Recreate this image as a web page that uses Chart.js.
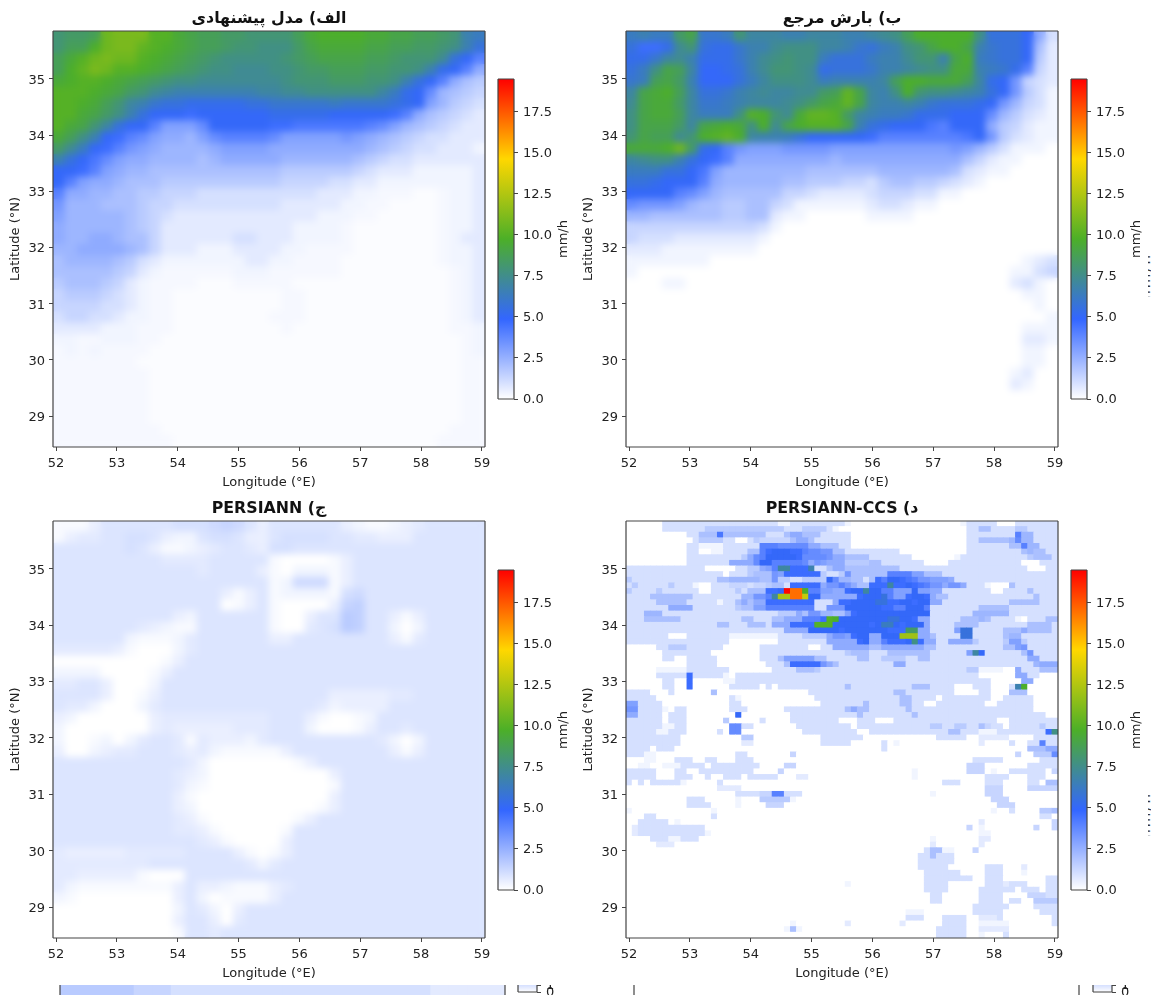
<!DOCTYPE html>
<html><head><meta charset="utf-8">
<script src="https://cdn.jsdelivr.net/npm/chart.js@4/dist/chart.umd.js"></script>
<style>
html,body{margin:0;padding:0;background:#fff;overflow:hidden;width:1154px;height:1002px}
canvas{position:absolute;display:block}
.cut{position:absolute;overflow:hidden}
.clip{position:absolute;overflow:hidden;width:3px;font:15px "DejaVu Sans";color:#333}
.clip span{position:absolute;left:-12px;top:0;writing-mode:vertical-rl;transform:rotate(180deg);white-space:nowrap;letter-spacing:2px}
</style></head><body>
<script>
const ALPHABET="0123456789abcdefghijklmnopqrstuvwxyzABCDEFGHIJKLMNOPQRSTUVWXYZ";
const FAINT_CODES={".":0.1,",":0.22};
const TITLES=["الف) مدل پیشنهادی","ب) بارش مرجع","ج) PERSIANN","د) PERSIANN-CCS"];
const X_LABEL="Longitude (°E)", Y_LABEL="Latitude (°N)", CBAR_LABEL="mm/h";
const LON_MIN=51.95, LON_MAX=59.05, LAT_MIN=28.45, LAT_MAX=35.85, VMAX=19.5;
const CMAP_COLORS=["#ffffff","#3366ff","#4caf28","#ffd700","#ff0000"];

// values: one character per cell, index in ALPHABET x 1/3 mm/h
const proposedRows=[
"oppqwx xxuusr qqppoo ooqstt ttssrr qqpokj",
"oqqtwx xvutsr qqpoon nnprss ssrrqq pponkh",
"qsuwxw wutsrq ponnnn nopqrr rrqqpo oomhfc",
"qtvxwu utsrqp onnmmm nnoppq qqppoo nkgfc8",
"stuuts rqponn mmmmmm mnooop ppoonk hfc865",
"uuutsr pomlkk kkkkkl lmmnnn nnnljg fb7654",
"uutsqo lkihhg gggghh iiiiij iiiihg f97543",
"uusrpn khfffe ffffff gggggf ffffec 865432",
"usrolh ffc999 bfffff eedddd ddcb97 654322",
"sqnkfe cb9887 9bcccc b99999 a98765 433222",
"pmjfec a98777 789999 888888 887654 332221",
"khfdb9 887777 678888 877777 765433 222222",
"ffec98 776666 666666 655555 543222 111112",
"fc9887 666555 555555 544443 322111 111112",
"c88776 655444 333333 333322 211,,, ..,112",
"a77766 654433 333333 322222 11,,.. ..,112",
"977777 654322 222222 222211 1,,... ..,112",
"877777 654222 222222 221111 ,..... ..,112",
"877887 664222 222332 221111 ,..... ..,122",
"778888 764222 111222 211,,, ,..... ..,112",
"677776 532111 111122 11,,,, ...... ..,112",
"666665 421,,, ,,,111 ,,,,,, ...... ...,12",
"566654 21,,,, ...,,, ,,.... ...... ...,12",
"455543 21,,.. ...... .,,... ...... ...,12",
"444433 21,,.. ...... .,,... ...... ...,12",
"344332 11,,.. ...... ,,,... ...... ...,12",
"222211 1,,,.. ...... .,.... ...... ...,,1",
"11,,11 1,,... ...... ...... ...... ....,1",
",1,1,, ,,.... ...... ...... ...... ....,1",
",,,,,, ,..... ...... ...... ...... ....,,",
",,,,,, ,,.... ...... ...... ...... ....,,",
",,,,,, ,,.... ...... ...... ...... ....,,",
",,,,,, ,,.... ...... ...... ...... ....,,",
",,,,,, ,,.... ...... ...... ...... ....,,",
",,,,,, ,,.... ...... ...... ...... ....,,",
",,,,,, ,,,... ...... ...... ...... ...,,,",
",,,,,, ,,,,.. ...... ...... ...... ..,,,,"];

const referenceRows=[
"jkjjpr iijoll lkklll kklmnq tttttn hhhf83",
"heegmo hggikk mnnnll kihjkn orttrk ihhf62",
"ggilmk gggikm nonnjh hhjkkm ookrtj ihhf52",
"hjnrql ffghkm oonmgh hhikkl mnnssk jigc42",
"ijqrpk fffhjl nnnmjk kkklqt tsssql gfa432",
"lrstql hhiklm llmmpq vrlknt onnmlk hfa531",
"mrsspl iijkll lmnprs vrlkkl kihhhg fa7431",
"nrssql jjjnut omsvvu plkjji gggfff b75321",
"nrrrpl rstsnt mrtuuu rkhgff fdcfff 854211",
"orqqmo tuvtlk kjhfff ffeccc ccccdf a53211",
"ssstwp gfca99 9aaaa9 999999 999a97 531110",
"lmnnkh fec888 888887 888888 888864 211000",
"jjjhhf d97777 777666 666777 777632 110000",
"hhgfff c87777 766555 443566 554321 000000",
"ffffcb 976666 644322 223444 331100 000000",
"baaa97 665566 431111 112332 110000 000000",
"776666 665566 211000 001111 000000 000000",
"444444 444443 100000 000000 000000 000000",
"433322 222221 000000 000000 000000 000000",
"222111 111110 000000 000000 000000 000000",
"111111 100000 000000 000000 000000 000123",
"100000 000000 000000 000000 000000 001134",
"000110 000000 000000 000000 000000 002310",
"000000 000000 000000 000000 000000 000110",
"000000 000000 000000 000000 000000 000010",
"000000 000000 000000 000000 000000 000001",
"000000 000000 000000 000000 000000 000111",
"000000 000000 000000 000000 000000 000221",
"000000 000000 000000 000000 000000 000110",
"000000 000000 000000 000000 000000 000110",
"000000 000000 000000 000000 000000 001200",
"000000 000000 000000 000000 000000 002100",
"000000","000000","000000","000000","000000"];

// PERSIANN uses 1/6 mm/h per index
const persiannRows=[
"111355 555566 678753 555555 321123 455555",
"134455 665322 566533 566665 544333 555555",
"555555 653112 345543 665555 555555 555555",
"555555 555444 455555 100001 355555 555555",
"555555 555555 455553 102221 355555 555555",
"555555 555555 555555 127771 355555 555555",
"555555 555555 553135 122221 675555 555555",
"555555 555555 550135 100003 895555 555555",
"555555 555532 555555 100355 a95531 355555",
"555555 543211 555555 100456 a95520 255555",
"555555 211124 555555 335555 555531 455555",
"444443 100024 555555 555555 555555 555555",
"000000 000135 555555 555555 555555 555555",
"222200 001355 555555 555555 555555 555555",
"445530 002555 555555 555555 555555 555555",
"555530 013555 555555 555553 333344 555555",
"544200 024555 555555 555542 333355 555555",
"320000 003444 444444 555310 012555 555555",
"200000 003433 333444 555200 013554 555555",
"200120 245541 433324 555555 555420 255555",
"300234 455543 421111 135555 555531 355555",
"555555 555554 200000 001355 555555 555555",
"555555 555543 200000 000003 555555 555555",
"555555 555542 100000 000001 555555 555555",
"555555 555531 000000 000003 555555 555555",
"555555 555532 000000 000013 555555 555555",
"555555 555543 100000 001355 555555 555555",
"555555 555544 310000 015555 555555 555555",
"555555 555555 431000 035555 555555 555555",
"433333 444445 555310 135555 555555 555555",
"444444 445555 555542 455555 555555 555555",
"443333 310005 555555 555555 555555 555555",
"421111 111135 332111 345555 555555 555555",
"210000 000035 201111 355555 555555 555555",
"000000 000025 420355 555555 555555 555555",
"000000 000035 530455 555555 555555 555555",
"000000 000015 545555 555555 555555 555555"];

const ccsRows=[
"0000003333 3333333333 3333311333 3333331000 0000000000 0000013333 30003333333",
"0000003333 3335555555 5555553335 5553100000 0000000000 0000003366 33335533333",
"0000000000 33666d6666 6663336886 6633333000 0000000000 0000003333 3333c773333",
"0000000000 0355553300 3544444688 6333333000 0000000000 0000003366 6667b773333",
"0000000000 3311113333 33cccbbbbb 8866633000 0000000000 0000003333 33366c77333",
"0000000000 3300113333 66cefffeec bbaa663333 3333300000 0000003333 33333676633",
"0000000000 3333333335 8bcfffffeb bbba886666 3333333000 0000133333 33333356663",
"0000000000 3333333888 8bffcccccb 8a98885555 6633333330 0003333333 33333000333",
"3333333333 3330000033 5589clleee k336886666 6666633333 3333333333 33333300033",
"3333333333 3333330333 5666a9eeee ee5335a666 666cccc996 6633333333 33333333333",
"5333333333 3333366777 7766a55335 555fb77663 6ecffedcaa 9998333333 33333333333",
"3533333533 3100333444 3445663eee ee8aaca866 eeeleefedc aa8aa83331 00063333333",
"5333353333 3300333353 666eefWPPt cc9988effl ffcc999f99 8833333333 00333363333",
"3333666666 6333333337 7aaclBBPPD ff888888ef ffhc99effe 8663333333 33333336333",
"3333366666 3333313368 688eeeeeee e3338eefff fhheeffeff 8833333333 33366666333",
"3333333888 8333333356 699ccccccc c33aaaffff ffeeccfffc 3333333366 66633333333",
"3337773333 3333333333 3333355586 aa77669eff ffffffffff 3333333777 77733333333",
"3336666663 3333333336 633366888c cceutfffff fffhhffe88 3333366676 33331033366",
"3333333333 3333366333 6663888eee euuuffffff efjjfefff8 3333666633 33333366663",
"3333333333 3333333333 3333338888 fffffeffff fffeeepp88 33339hh333 33666866663",
"3333333000 3333333111 1111133335 5558aa9eff 88fffAAA88 63333hh333 33677333333",
"3333333333 3333333000 0000033333 33388888ef 88ceeefne8 8338888533 33599533333",
"0000033555 3333330000 0033333333 0033888888 6688888886 6333333333 33669a33333",
"0000003333 3333000000 0033333333 3333335666 3336666666 3333339lf3 333336a3333",
"0000003300 3333300000 0033369999 9663333366 3355553366 3333333333 33333388333",
"0000000000 3333300000 0003336eee eea8633333 3333883333 3333333333 33333337888",
"0000011111 3333333000 0000333366 6533333333 3333333333 3333335511 11008333666",
"0000033333 e333331033 3333333333 3333333333 3333333333 3333333300 00008833000",
"0000003300 e000001133 3333333333 3333333333 3333333333 3333333333 00000880000",
"0000003300 e000000333 3303033333 3333336333 3333333666 3333000333 0003kt00000",
"3333000300 0000600000 0000000000 3333333333 3333663333 3333000033 00066600000",
"3333300000 0000000310 0000000000 0333333333 3333366333 3033333333 00333330000",
"9933330000 0000000330 0000000000 0033333336 3333366330 0333333330 03333330000",
"aa33331033 0000000333 0000003333 3333336866 3333336333 3333333333 33333330000",
"8833330333 00000000f0 0000000333 3333333363 3333333633 3333333333 33333333300",
"3333330333 0000005000 0030000333 3333300033 3000333333 3333333333 30033333333",
"3333331133 0000000bb3 3000000033 3333333033 3333333333 5533553364 33033333533",
"3333311333 0000030bb0 0000000003 3333333300 3333333333 3336633311 133333333en",
"3333333330 0000000005 5000000000 0033333330 0000000000 0333330022 22200003333",
"3333333330 0000000002 2000000000 0033333000 0030100000 0000000020 00030033c33",
"3333033300 0000000000 0000000000 0000000000 0030000000 0000000000 00000066688",
"3331100000 0000000033 0000000400 0000000000 0000000000 0000000000 0000400555b",
"0001100033 3003300033 3000000000 0000000000 0000000000 0000000333 33000000333",
"0011001113 3330333333 3300004400 0000000000 0000000000 0000004440 00000033333",
"3333300033 0033333333 3000040000 0000000000 0000000100 0000004440 10033333304",
"3333300033 3003003330 3333300022 0000000000 0000000100 0000000003 33300033300",
"3030333331 0000030000 0000000000 0000000000 0000000000 0033300003 33000033066",
"0000000000 0000022220 0000000000 0000000000 0000000000 0000000004 44000044444",
"0000000000 0000000033 3344cc3330 0000000000 0000000000 1000000004 44000000000",
"0000000000 3330000010 0055555100 0000000000 0000000000 0000000000 44400000000",
"0000000000 3333000010 0004440000 0000000000 0000000000 0000000000 04440000000",
"1000000000 0000100000 0000000000 0000000000 0000000000 0000000000 10030000556",
"0003300000 0000300000 0000000000 0000000000 0000000000 0000000000 00000000330",
"0033333010 0000000000 0000000000 0000000000 0000000000 0000000020 00000000004",
"0233333333 3330000000 0000000000 0000000000 0000000000 0000004010 00000004004",
"0233333333 3331000000 0000000000 0000000000 0000000000 0000000011 00000000000",
"0000333113 3300000000 0000000000 0000000000 0000000000 1000000022 00000000000",
"0000022200 0000000000 0000000000 0000000000 0000000000 2000000020 00000000000",
"0000000000 0000000000 0000000000 0000000000 0000000003 6611000400 00000000000",
"0000000000 0000000000 0000000000 0000000000 0000000033 6333000000 00000000000",
"0000000000 0000000000 0000000000 0000000000 0000000033 3333000000 00000000000",
"0000000000 0000000000 0000000000 0000000000 0000000033 3330000003 33000200000",
"0000000000 0000000000 0000000000 0000000000 0000000003 3333300003 33000100000",
"0000000000 0000000000 0000000000 0000000000 0000000003 3333333003 33000000033",
"0000000000 0000000000 0000000000 0000001000 0000000003 3330000003 33233300033",
"0000000000 0000000000 0000000000 0000000000 0000000003 3330000033 33330333033",
"0000000000 0000000000 0000000000 0000000000 0000000000 3300000033 33000044433",
"0000000000 0000000000 0000000000 0000000000 0000000000 3300000033 33033005555",
"0000000000 0000000000 0000000000 0000000000 0000000000 0000000333 33300003333",
"0000000000 0000000000 0000000000 0000000000 0000001110 0000000333 33000000333",
"0000000000 0000000000 0000000000 0000000000 0000003330 0033330022 23000000003",
"0000000000 0000000000 0000000100 0000002000 0000020000 0033330011 11100000003",
"0000000000 0000000000 0000001610 0000000000 0000000000 0333330022 22200000000",
"0000000000 0000000000 0000000000 0000000000 0000000000 0333330010 00300000000"];

const cutLeftRows=["555544333333333333332222"];
const cutRightRows=["000000000000000000000000"];

const TXT="#222", LINE="#444", FONT="'DejaVu Sans'";
Chart.defaults.animation=false;
Chart.defaults.font.family=FONT;
Chart.defaults.color=TXT;

function hexRgb(h){return [1,3,5].map(i=>parseInt(h.substr(i,2),16));}
function colorOf(v){
  const t=Math.min(Math.max(v/VMAX,0),1)*(CMAP_COLORS.length-1), i=Math.min(Math.floor(t),CMAP_COLORS.length-2), f=t-i;
  const a=hexRgb(CMAP_COLORS[i]), b=hexRgb(CMAP_COLORS[i+1]);
  return `rgb(${a.map((c,k)=>Math.round(c+(b[k]-c)*f)).join(",")})`;
}
function decode(rows,unit){
  const strs=rows.map(s=>s.replace(/ /g,"")), nc=Math.max(...strs.map(s=>s.length)), nr=rows.length, pts=[];
  strs.forEach((s,r)=>{for(let c=0;c<nc;c++){
    const ch=c<s.length?s[c]:"0";
    const v=ch in FAINT_CODES?FAINT_CODES[ch]:ALPHABET.indexOf(ch)*unit;
    pts.push({x:LON_MIN+(c+.5)*(LON_MAX-LON_MIN)/nc,y:LAT_MAX-(r+.5)*(LAT_MAX-LAT_MIN)/nr,v});
  }});
  return {pts,nc,nr};
}
const framePlugin={id:"frame",afterDraw(ch,a,o){
  const {left,right,top,bottom}=ch.chartArea,c=ch.ctx,s=o.sides||"ltrb";
  c.save();c.strokeStyle=LINE;c.lineWidth=1.2;c.beginPath();
  if(s.includes("l")){c.moveTo(left,top);c.lineTo(left,bottom);}
  if(s.includes("r")){c.moveTo(right,top);c.lineTo(right,bottom);}
  if(s.includes("t")){c.moveTo(left,top);c.lineTo(right,top);}
  if(s.includes("b")){c.moveTo(left,bottom);c.lineTo(right,bottom);}
  c.stroke();c.restore();
}};
const rtlTitle={id:"rtlTitle",afterDraw(ch,a,o){
  if(!o.text)return;const c=ch.ctx,ar=ch.chartArea;
  c.save();c.direction="rtl";c.textAlign="center";c.textBaseline="middle";c.font=`bold 15.8px ${FONT}`;c.fillStyle="#111";
  c.fillText(o.text,(ar.left+ar.right)/2,ar.top-12.5);c.restore();
}};
// softens the drawn cells the way the reference's resampled image is soft
const softCells={id:"softCells",afterDatasetsDraw(ch,a,o){
  if(!o.blur)return;const {left,top,width,height}=ch.chartArea,c=ch.ctx;
  c.save();c.beginPath();c.rect(left,top,width,height);c.clip();c.filter=`blur(${o.blur}px)`;
  c.drawImage(c.canvas,left,top,width,height,left,top,width,height);c.restore();
}};

function addCanvas(l,t,w,h,parent){
  const cv=document.createElement("canvas");cv.width=w;cv.height=h;
  cv.style.cssText=`left:${l}px;top:${t}px;width:${w}px;height:${h}px`;
  (parent||document.body).appendChild(cv);return cv.getContext("2d");
}
function addCut(l,t,w,h){
  const d=document.createElement("div");d.className="cut";
  d.style.cssText=`left:${l}px;top:${t}px;width:${w}px;height:${h}px`;document.body.appendChild(d);return d;
}
function heat(l,t,areaH,rows,unit,title,blur){
  const W=495,H=31+areaH+43,{pts,nc,nr}=decode(rows,unit);
  const side=Math.max(432/nc,areaH/nr)+0.6;
  new Chart(addCanvas(l,t,W,H),{type:"scatter",
    data:{datasets:[{data:pts,pointStyle:"rect",pointRadius:side/Math.SQRT2,pointHoverRadius:side/Math.SQRT2,pointBorderWidth:0,
      pointBackgroundColor:pts.map(p=>colorOf(p.v))}]},
    options:{responsive:false,events:[],layout:{padding:{top:31,right:10,left:0,bottom:0}},
      plugins:{legend:{display:false},tooltip:{enabled:false},title:{display:false},rtlTitle:{text:title},softCells:{blur}},
      scales:{
        x:{type:"linear",min:LON_MIN,max:LON_MAX,afterFit:s=>{s.height=43;s.paddingLeft=0;s.paddingRight=0;},
          ticks:{stepSize:1,includeBounds:false,maxRotation:0,autoSkip:false,font:{size:13},color:TXT,padding:5,callback:v=>String(v)},
          grid:{drawOnChartArea:false,tickLength:4,tickColor:LINE},border:{display:false},
          title:{display:true,text:X_LABEL,font:{size:13},color:TXT,padding:{top:2,bottom:0}}},
        y:{type:"linear",min:LAT_MIN,max:LAT_MAX,afterFit:s=>{s.width=53;s.paddingTop=0;s.paddingBottom=0;},
          ticks:{stepSize:1,includeBounds:false,autoSkip:false,font:{size:13},color:TXT,padding:4,labelOffset:1.5,callback:v=>String(v)},
          grid:{drawOnChartArea:false,tickLength:4,tickColor:LINE},border:{display:false},
          title:{display:true,text:Y_LABEL,font:{size:13},color:TXT,padding:{top:8,bottom:0}}}
      }},
    plugins:[softCells,framePlugin,rtlTitle]});
}
const cbarLabel={id:"cbarLabel",afterDraw(ch,a,o){
  if(!o.text)return;const c=ch.ctx,ar=ch.chartArea;
  c.save();c.translate(ar.right+50,(ar.top+ar.bottom)/2);c.rotate(-Math.PI/2);c.textAlign="center";c.textBaseline="middle";
  c.font=`13px ${FONT}`;c.fillStyle=TXT;c.fillText(o.text,0,0);c.restore();
}};
function cbar(ctx,w,barW,padTop,padBottom,maxV,step,fmt,label,sides){
  new Chart(ctx,{type:"bar",
    data:{labels:["cbar"],datasets:[{data:[[0,maxV]],barPercentage:1,categoryPercentage:1,
      backgroundColor(c){const a=c.chart.chartArea,y=c.chart.scales.y;if(!a||!y)return "#fff";
        const g=c.chart.ctx.createLinearGradient(0,y.getPixelForValue(0),0,y.getPixelForValue(VMAX));
        CMAP_COLORS.forEach((col,i)=>g.addColorStop(i/(CMAP_COLORS.length-1),col));return g;}}]},
    options:{responsive:false,events:[],layout:{padding:{top:padTop,bottom:padBottom,left:3,right:0}},
      plugins:{legend:{display:false},tooltip:{enabled:false},cbarLabel:{text:label},frame:{sides}},
      scales:{x:{display:false},
        y:{position:"right",min:0,max:maxV,afterFit:s=>{s.width=w-3-barW;s.paddingTop=0;s.paddingBottom=0;},
          ticks:{stepSize:step,includeBounds:false,autoSkip:false,font:{size:13},color:TXT,padding:5,labelOffset:1,callback:fmt},
          grid:{drawOnChartArea:false,tickLength:4,tickColor:LINE},border:{display:false}}}},
    plugins:[framePlugin,cbarLabel]});
}
function strip(l,rows){
  const {pts}=decode(rows,1/3);
  const holder=addCut(l,985,455,10);
  new Chart(addCanvas(0,0,455,60,holder),{type:"bar",
    data:{labels:pts.map(p=>p.x),datasets:[{data:pts.map(()=>[0,1]),barPercentage:1.05,categoryPercentage:1,
      backgroundColor:pts.map(p=>colorOf(p.v))}]},
    options:{responsive:false,events:[],layout:{padding:{left:5,right:5,top:0,bottom:0}},
      plugins:{legend:{display:false},tooltip:{enabled:false},frame:{sides:"lr"}},
      scales:{x:{display:false},
        y:{min:0,max:1,afterFit:s=>{s.width=0;s.paddingTop=0;s.paddingBottom=0;},ticks:{display:false},grid:{display:false},border:{display:false}}}},
    plugins:[framePlugin]});
}
function clipText(t,h){
  const d=document.createElement("div");d.className="clip";d.style.cssText=`left:1148px;top:${t}px;height:${h}px`;
  d.innerHTML=`<span>${CBAR_LABEL}</span>`;document.body.appendChild(d);
}
heat(0,0,416,proposedRows,1/3,TITLES[0],3.5);
heat(573,0,416,referenceRows,1/3,TITLES[1],3.5);
heat(0,490,417,persiannRows,1/6,TITLES[2],3.5);
heat(573,490,417,ccsRows,1/3,TITLES[3],0.5);
const fmt=v=>v.toFixed(1);
[[495,70],[1068,70],[495,561],[1068,561]].forEach(p=>cbar(addCanvas(p[0],p[1],80,340),80,16,9,11,VMAX,2.5,fmt,CBAR_LABEL,"lrtb"));
strip(55,cutLeftRows);
strip(629,cutRightRows);
[515,1090].forEach(l=>cbar(addCanvas(0,0,50,60,addCut(l,985,50,10)),50,19,0,53,1,5,v=>String(v),"","lrb"));
clipText(253,44);clipText(792,44);
</script>
</body></html>
